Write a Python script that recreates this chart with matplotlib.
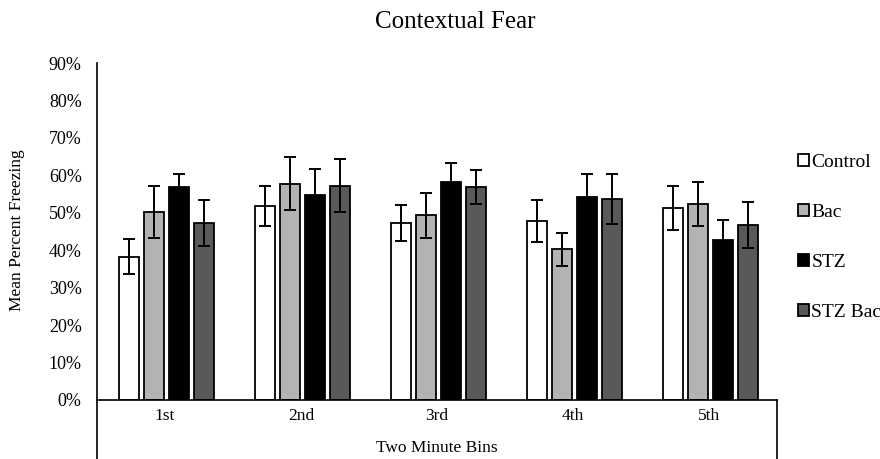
import matplotlib

matplotlib.use("Agg")
import matplotlib.pyplot as plt  # noqa: E402
import numpy as np  # noqa: E402
from matplotlib.lines import Line2D  # noqa: E402

plt.rcParams["font.family"] = ["Liberation Serif", "DejaVu Serif"]

bins = ["1st", "2nd", "3rd", "4th", "5th"]
groups = ["Control", "Bac", "STZ", "STZ Bac"]
control = [38.3, 51.8, 47.3, 47.7, 51.2]
bac = [50.2, 57.8, 49.3, 40.2, 52.3]
stz = [56.8, 54.8, 58.3, 54.3, 42.8]
stz_bac = [47.3, 57.2, 56.8, 53.7, 46.7]
control_err = [4.6, 5.4, 4.9, 5.6, 5.9]
bac_err = [7.0, 7.0, 6.0, 4.5, 5.9]
stz_err = [3.6, 7.0, 4.9, 6.1, 5.4]
stz_bac_err = [6.1, 7.1, 4.5, 6.6, 6.1]

colors = ["white", "#b3b3b3", "black", "#595959"]

fig = plt.figure(figsize=(8.8, 4.59), dpi=100)
ax = fig.add_axes([97 / 880, 59 / 459, 680 / 880, 337 / 459])

x = np.arange(len(bins))
width = 0.147
pitch = 0.184
series = [control, bac, stz, stz_bac]
errs = [control_err, bac_err, stz_err, stz_bac_err]
for i, (vals, err, col, name) in enumerate(zip(series, errs, colors, groups)):
    pos = x + (i - 1.5) * pitch + 0.01
    ax.bar(pos, np.array(vals) / 100, width, color=col, edgecolor="black",
           linewidth=1.3, label=name, zorder=2)
    ax.errorbar(pos, np.array(vals) / 100, yerr=np.array(err) / 100, fmt="none",
                ecolor="black", elinewidth=1.4, capsize=4.3, capthick=1.4, zorder=3)

ax.set_xlim(-0.5, len(bins) - 0.5)
ax.set_ylim(0, 0.9)
yt = np.arange(0, 0.91, 0.1)
ax.set_yticks(yt)
ax.set_yticklabels([f"{int(round(v * 100))}%" for v in yt], fontsize=13)
ax.set_xticks(x)
ax.set_xticklabels(bins, fontsize=12.5)
ax.tick_params(axis="x", length=0, pad=6)
ax.tick_params(axis="y", length=0, pad=11)
for s in ["top", "right"]:
    ax.spines[s].set_visible(False)
ax.spines["left"].set_linewidth(1.2)
ax.spines["bottom"].set_linewidth(1.2)

# category-axis box below the plot
fig.add_artist(Line2D([97 / 880, 97 / 880], [0, 59 / 459], color="black", lw=1.2))
fig.add_artist(Line2D([777 / 880, 777 / 880], [0, 59 / 459], color="black", lw=1.2))

fig.text(437 / 880, 1 - 448 / 459, "Two Minute Bins", ha="center", va="center", fontsize=12.5)
fig.text(17 / 880, 1 - 230 / 459, "Mean Percent Freezing", rotation=90,
         ha="center", va="center", fontsize=12.5)
fig.text(455 / 880, 1 - 22 / 459, "Contextual Fear", ha="center", va="center", fontsize=18)

ax.legend(loc="upper left", bbox_to_anchor=(798 / 880, 1 - 154 / 459),
          bbox_transform=fig.transFigure, frameon=False,
          prop={"family": "Liberation Serif", "size": 14},
          handlelength=0.57, handleheight=0.57, handletextpad=0.12, labelspacing=1.69,
          borderaxespad=0, borderpad=0)

fig.savefig("out.png", dpi=100)
plt.close(fig)
